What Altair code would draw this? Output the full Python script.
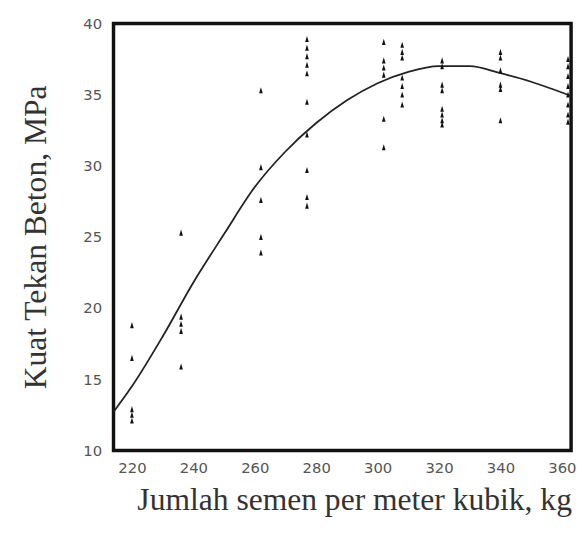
import altair as alt
import pandas as pd

# Scatter data: cement content (kg/m3) and concrete strength (MPa)
cement_220 = [18.8, 16.5, 12.9, 12.5, 12.1]
cement_236 = [25.3, 19.4, 18.9, 18.4, 15.9]
cement_262 = [35.3, 29.9, 27.6, 25.0, 23.9]
cement_277 = [38.9, 38.3, 37.7, 37.1, 36.5, 34.5, 32.2, 29.7, 27.8, 27.2]
cement_302 = [38.7, 37.4, 36.9, 36.4, 33.3, 31.3]
cement_308 = [38.5, 38.0, 37.6, 36.2, 35.6, 35.0, 34.3]
cement_321 = [37.4, 37.0, 35.7, 35.3, 34.0, 33.6, 33.2, 32.9]
cement_340 = [38.0, 37.6, 36.7, 35.7, 35.4, 33.2]
cement_362 = [37.5, 37.0, 36.3, 35.6, 35.0, 34.3, 33.6, 33.1]

groups = {220: cement_220, 236: cement_236, 262: cement_262, 277: cement_277,
          302: cement_302, 308: cement_308, 321: cement_321, 340: cement_340,
          362: cement_362}

# Fitted curve
curve_x = [214, 220, 230, 240, 250, 260, 270, 280, 290, 300, 310, 320, 330, 340, 350, 363]
curve_y = [12.7, 14.5, 18.0, 21.8, 25.2, 28.5, 31.0, 33.0, 34.6, 35.8, 36.6, 37.0, 37.0, 36.5, 35.9, 34.9]

x_ticks = [220, 240, 260, 280, 300, 320, 340, 360]
y_ticks = [10, 15, 20, 25, 30, 35, 40]

pts = pd.DataFrame([{"x": k, "y": v} for k, vals in groups.items() for v in vals])
crv = pd.DataFrame({"x": curve_x, "y": curve_y})

xscale = alt.Scale(domain=[214, 363], nice=False, zero=False)
yscale = alt.Scale(domain=[10, 40], nice=False, zero=False)

xaxis = alt.Axis(values=x_ticks, title="Jumlah semen per meter kubik, kg",
                 grid=False, domain=False, ticks=False, labelPadding=10,
                 labelFont="DejaVu Sans", labelFontSize=15, labelColor="#555",
                 titleFont="Liberation Serif", titleFontSize=32, titleFontWeight="normal",
                 titleColor="#333", titlePadding=10, titleX=244)
yaxis = alt.Axis(values=y_ticks, title="Kuat Tekan Beton, MPa",
                 grid=False, domain=False, ticks=False, labelPadding=12,
                 labelFont="DejaVu Sans", labelFontSize=15, labelColor="#555",
                 titleFont="Liberation Serif", titleFontSize=32, titleFontWeight="normal",
                 titleColor="#333", titlePadding=31)

points = alt.Chart(pts).mark_point(
    shape="M0,-1L0.6,1L-0.6,1Z", filled=True, color="#111", size=38, opacity=1
).encode(
    x=alt.X("x:Q", scale=xscale, axis=xaxis),
    y=alt.Y("y:Q", scale=yscale, axis=yaxis),
)

line = alt.Chart(crv).mark_line(
    color="#222", strokeWidth=1.8, interpolate="monotone"
).encode(
    x=alt.X("x:Q", scale=xscale),
    y=alt.Y("y:Q", scale=yscale),
)

chart = alt.layer(line, points).properties(
    width=464, height=433,
    background="white",
    autosize=alt.AutoSizeParams(type="none"),
    padding={"left": 107, "top": 12, "right": 6, "bottom": 70},
).configure_view(
    stroke="#111", strokeWidth=3.5
)

chart.save("out.html", embed_options={"renderer": "svg", "actions": False})
